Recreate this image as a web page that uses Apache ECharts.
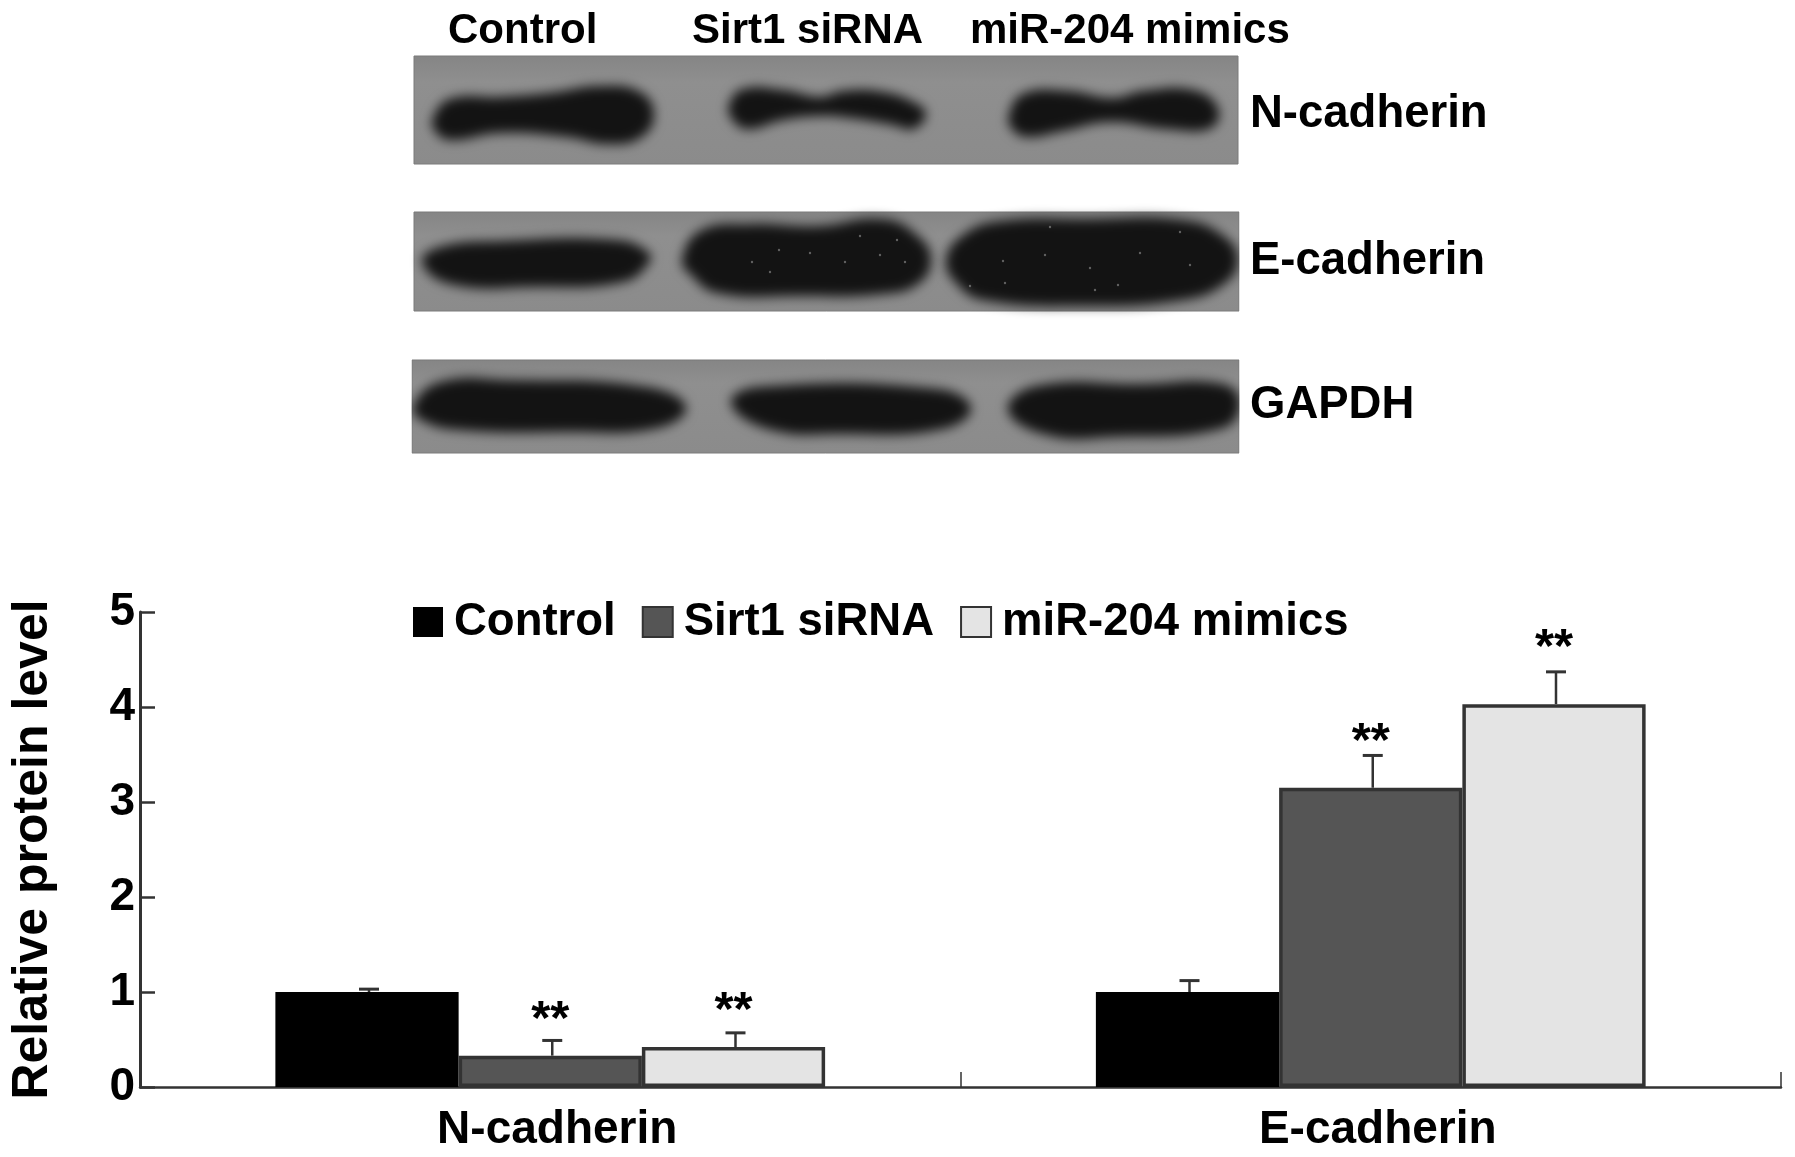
<!DOCTYPE html>
<html>
<head>
<meta charset="utf-8">
<style>html,body{margin:0;padding:0;background:#fff}#c{width:1795px;height:1157px}</style>
<script src="https://cdn.jsdelivr.net/npm/echarts@6/dist/echarts.min.js"></script>
</head>
<body>
<div id="c"></div>
<script>
// ---- chart values ----
const categories = ['N-cadherin', 'E-cadherin'];
const seriesNames = ['Control', 'Sirt1 siRNA', 'miR-204 mimics'];
const controlValues = [1.0, 1.0];
const sirt1Values = [0.33, 3.15];
const mimicsValues = [0.42, 4.03];
const controlUpper = [1.03, 1.12];
const sirt1Upper = [0.49, 3.49];
const mimicsUpper = [0.57, 4.37];
const controlStars = [null, null];
const sirt1Stars = [0.70, 3.63];
const mimicsStars = [0.79, 4.62];
const yTicks = [0, 1, 2, 3, 4, 5];

const FONT = '"Liberation Sans", Arial, sans-serif';
const INK = '#333';
const fills = ['#000000', '#555555', '#e4e4e4'];
const rows = [
  [controlValues, controlUpper, controlStars],
  [sirt1Values, sirt1Upper, sirt1Stars],
  [mimicsValues, mimicsUpper, mimicsStars]
];

// ---- western-blot decoration ----
const blotPanels = [
  [414, 56, 824, 108],
  [414, 212, 825, 99],
  [412, 360, 827, 93]
];
const blotBands = [
  [[433,118],[450,99],[500,97],[550,93],[600,86],[640,92],[654,115],[640,138],[607,144],[567,137],[500,133],[450,140],[435,131]],
  [[729,105],[743,89],[783,90],[820,97],[843,91],[883,92],[917,104],[926,115],[913,129],[893,125],[850,118],[820,116],[783,120],[747,129],[732,119]],
  [[1009,115],[1023,94],[1067,91],[1113,98],[1143,91],[1193,90],[1218,108],[1211,128],[1167,129],[1110,122],[1063,131],[1027,137],[1012,129]],
  [[422,262],[440,247],[500,241],[617,240],[648,252],[649,263],[623,282],[533,287],[450,284]],
  [[682,260],[700,231],[750,224],[817,226],[883,219],[918,236],[931,260],[918,284],[883,294],[800,296],[717,293],[690,274]],
  [[946,260],[963,235],[1000,221],[1090,219],[1183,220],[1224,236],[1238,260],[1224,284],[1183,300],[1085,306],[983,300],[957,284]],
  [[413,407],[440,382],[510,380],[647,387],[686,407],[658,428],[565,432],[460,430],[423,421]],
  [[731,403],[757,387],[938,389],[971,408],[943,429],[839,434],[768,429]],
  [[1008,410],[1036,386],[1140,384],[1223,384],[1240,403],[1223,428],[1113,437],[1047,435]]
];
const blotSpecks = [
  [779,250],[810,253],[845,262],[770,272],[880,255],[752,262],[905,262],[897,240],[1050,227],[1003,261],
  [970,286],[1005,283],[1090,268],[1140,253],[1095,290],[1180,232],[1190,265],[1118,285],[860,236],[1045,255]
];
const blotLabels = [
  ['Control', 448, 31, 42],
  ['Sirt1 siRNA', 692, 31, 42],
  ['miR-204 mimics', 970, 31, 42],
  ['N-cadherin', 1250, 114, 45.5],
  ['E-cadherin', 1250, 261, 45.5],
  ['GAPDH', 1250, 405, 45.5]
];

const OFFSCREEN = 3000; // band shape sits off the page; only its soft blurred shadow shows
const graphics = [];
blotPanels.forEach(p => graphics.push({
  type: 'rect', z: 1, shape: { x: p[0], y: p[1], width: p[2], height: p[3] },
  style: { fill: { type: 'linear', x: 0, y: 0, x2: 0, y2: 1,
    colorStops: [{ offset: 0, color: '#858585' }, { offset: 0.25, color: '#8f8f8f' }, { offset: 1, color: '#8b8b8b' }] },
    stroke: '#7a7a7a', lineWidth: 1 }
}));
blotBands.forEach(b => graphics.push({
  type: 'polygon', z: 2, x: -OFFSCREEN, shape: { points: b, smooth: 0.45 },
  style: { fill: '#131313', shadowBlur: 12, shadowColor: '#131313', shadowOffsetX: OFFSCREEN }
}));
blotSpecks.forEach(s => graphics.push({
  type: 'circle', z: 3, shape: { cx: s[0], cy: s[1], r: 1.2 }, style: { fill: 'rgba(150,150,150,0.6)' }
}));
// keep the blur of the bands inside the panels
graphics.push({ type: 'rect', z: 4, shape: { x: 1239.5, y: 200, width: 30, height: 260 }, style: { fill: '#fff' } });
graphics.push({ type: 'rect', z: 4, shape: { x: 390, y: 350, width: 21.5, height: 110 }, style: { fill: '#fff' } });
blotLabels.forEach(l => graphics.push({
  type: 'text', z: 5, x: l[1], y: l[2],
  style: { text: l[0], fill: '#000', font: 'bold ' + l[3] + 'px ' + FONT, textAlign: 'left', textVerticalAlign: 'middle' }
}));

// ---- series ----
const barSeries = seriesNames.map((name, i) => ({
  name, type: 'bar', data: rows[i][0], barGap: 0, barCategoryGap: '33%', z: 3,
  itemStyle: i === 0 ? { color: fills[i] } : { color: fills[i], borderColor: INK, borderWidth: 3.5 }
}));

const errorSeries = seriesNames.map((name, i) => ({
  type: 'custom', z: 2, silent: true, clip: false, legendHoverLink: false,
  encode: { x: 0, y: 1 },
  data: categories.map((c, k) => [k, rows[i][1][k], rows[i][0][k], rows[i][2][k] === null ? NaN : rows[i][2][k]]),
  renderItem(params, api) {
    const band = api.size([1, 0])[0];
    const dx = (i - 1) * band * 0.67 / 3;
    const top = api.coord([api.value(0), api.value(1)]);
    const base = api.coord([api.value(0), api.value(2)]);
    const x = top[0] + dx + 2;
    const kids = [
      { type: 'line', shape: { x1: x, y1: base[1], x2: x, y2: top[1] }, style: { stroke: INK, lineWidth: 2.5 } },
      { type: 'line', shape: { x1: x - 10, y1: top[1], x2: x + 10, y2: top[1] }, style: { stroke: INK, lineWidth: 3 } }
    ];
    const star = api.value(3);
    if (!isNaN(star)) {
      const s = api.coord([api.value(0), star]);
      kids.push({ type: 'text', style: { text: '**', x: x - 2, y: s[1], fill: '#000',
        font: 'bold 49px ' + FONT, textAlign: 'center', textVerticalAlign: 'middle' } });
    }
    return { type: 'group', children: kids };
  }
}));

const chart = echarts.init(document.getElementById('c'), null, { renderer: 'canvas', width: 1795, height: 1157 });
chart.setOption({
  animation: false,
  backgroundColor: '#fff',
  textStyle: { fontFamily: FONT },
  graphic: graphics,
  legend: {
    data: seriesNames, left: 413, top: 599, padding: 0, itemWidth: 30, itemHeight: 30, itemGap: 26,
    selectedMode: false, icon: 'rect',
    textStyle: { color: '#000', fontSize: 45.5, fontWeight: 'bold', fontFamily: FONT, padding: [0, 0, 0, 6] }
  },
  grid: { left: 140, right: 14, top: 612, bottom: 70, containLabel: false, outerBoundsMode: 'none' },
  xAxis: {
    type: 'category', data: categories,
    axisLine: { lineStyle: { color: INK, width: 2.5 } },
    axisTick: { show: true, inside: true, length: 15, alignWithLabel: false, lineStyle: { color: INK, width: 1.5 } },
    axisLabel: { color: '#000', fontSize: 46, fontWeight: 'bold', fontFamily: FONT, margin: 20, padding: [0, 0, 0, 14] }
  },
  yAxis: {
    type: 'value', min: yTicks[0], max: yTicks[yTicks.length - 1], interval: 1,
    name: 'Relative protein level', nameLocation: 'middle', nameRotate: 90, nameGap: 82,
    nameTextStyle: { color: '#000', fontSize: 50, fontWeight: 'bold', fontFamily: FONT },
    splitLine: { show: false },
    axisLine: { show: true, lineStyle: { color: INK, width: 3 } },
    axisTick: { show: true, inside: true, length: 15, lineStyle: { color: INK, width: 2.5 } },
    axisLabel: { color: '#000', fontSize: 46, fontWeight: 'bold', fontFamily: FONT, margin: 5, padding: [6, 0, 0, 0] }
  },
  series: barSeries.concat(errorSeries)
});
</script>
</body>
</html>
